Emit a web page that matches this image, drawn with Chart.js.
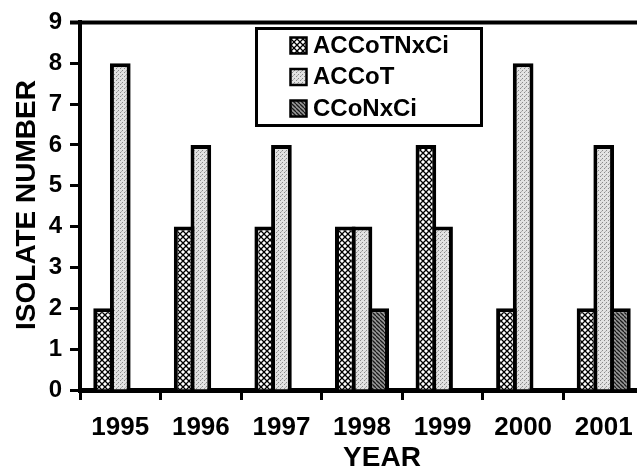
<!DOCTYPE html>
<html>
<head>
<meta charset="utf-8">
<script src="https://cdn.jsdelivr.net/npm/chart.js@4.4.1/dist/chart.umd.min.js"></script>
<style>
  html, body { margin: 0; padding: 0; background: #fff; overflow: hidden; }
  #wrap { width: 648px; height: 468px; }
</style>
</head>
<body>
<div id="wrap"><canvas id="chart" width="648" height="468"></canvas></div>
<script>
const years = ['1995', '1996', '1997', '1998', '1999', '2000', '2001'];
const accotnxci = [2, 4, 4, 4, 6, 2, 2];
const accot = [8, 6, 6, 4, 4, 8, 6];
const cconxci = [0, 0, 0, 2, 0, 0, 2];
const yTicks = [0, 1, 2, 3, 4, 5, 6, 7, 8, 9];

const FONT = "'Liberation Sans', Arial, sans-serif";

// small tiles used as bar fills
function makePattern(size, paint) {
    const c = document.createElement('canvas');
    c.width = size;
    c.height = size;
    const g = c.getContext('2d');
    paint(g, size);
    return g.createPattern(c, 'repeat');
}

const crossHatch = makePattern(6, (g, s) => {
    g.fillStyle = '#fff';
    g.fillRect(0, 0, s, s);
    g.strokeStyle = '#000';
    g.lineWidth = 1.3;
    for (let k = -s; k <= s; k += s) {
        g.beginPath();
        g.moveTo(k, 0); g.lineTo(k + s, s);
        g.moveTo(k + s, 0); g.lineTo(k, s);
        g.stroke();
    }
});

const stipple = makePattern(4, (g, s) => {
    g.fillStyle = '#e2e2e2';
    g.fillRect(0, 0, s, s);
    g.fillStyle = '#8a8a8a';
    g.fillRect(0, 0, 1, 1);
    g.fillRect(2, 2, 1, 1);
    g.fillStyle = '#b0b0b0';
    g.fillRect(1, 3, 1, 1);
});

const darkHatch = makePattern(4, (g, s) => {
    g.fillStyle = '#9a9a9a';
    g.fillRect(0, 0, s, s);
    g.strokeStyle = '#1a1a1a';
    g.lineWidth = 1.3;
    for (let k = -s; k <= s; k += s) {
        g.beginPath();
        g.moveTo(k, 0); g.lineTo(k + s, s);
        g.stroke();
    }
});

const series = [
    { label: 'ACCoTNxCi', data: accotnxci, fill: crossHatch },
    { label: 'ACCoT', data: accot, fill: stipple },
    { label: 'CCoNxCi', data: cconxci, fill: darkHatch }
];

// frame line on top, boxed legend and axis titles
const decorations = {
    id: 'decorations',
    afterDraw(chart) {
        const ctx = chart.ctx;
        const area = chart.chartArea;
        ctx.save();

        ctx.strokeStyle = '#000';
        ctx.lineWidth = 4;
        ctx.beginPath();
        ctx.moveTo(area.left - 10, area.top);
        ctx.lineTo(chart.width, area.top);
        ctx.stroke();

        // legend box
        ctx.lineWidth = 3;
        ctx.strokeRect(256.5, 28.5, 225, 97);
        chart.data.datasets.forEach((ds, i) => {
            const cy = 45 + i * 31.5;
            ctx.fillStyle = ds.backgroundColor;
            ctx.fillRect(290, cy - 8, 17, 17);
            ctx.lineWidth = 2.5;
            ctx.strokeRect(290.5, cy - 7.5, 16, 16);
            ctx.fillStyle = '#000';
            ctx.font = 'bold 24px ' + FONT;
            ctx.textAlign = 'left';
            ctx.textBaseline = 'middle';
            ctx.fillText(ds.label, 313, cy + 1);
        });

        ctx.fillStyle = '#000';
        ctx.textAlign = 'center';
        ctx.textBaseline = 'middle';
        ctx.font = 'bold 28px ' + FONT;
        ctx.fillText('YEAR', 382, 458);

        ctx.translate(27, 205);
        ctx.rotate(-Math.PI / 2);
        ctx.font = 'bold 28px ' + FONT;
        ctx.fillText('ISOLATE NUMBER', 0, 0);
        ctx.restore();
    }
};

new Chart(document.getElementById('chart'), {
    type: 'bar',
    data: {
        labels: years,
        datasets: series.map(s => ({
            label: s.label,
            data: s.data,
            backgroundColor: s.fill,
            borderColor: '#000',
            borderWidth: 4,
            // bars overlap by one border so neighbours share an outline
            categoryPercentage: 0.621,
            barPercentage: 1.24
        }))
    },
    options: {
        responsive: false,
        animation: false,
        layout: { padding: { top: 20, right: 4, left: 0, bottom: 0 } },
        plugins: {
            legend: { display: false },
            tooltip: { enabled: false }
        },
        scales: {
            x: {
                z: 1,
                offset: true,
                afterFit: scale => { scale.height = 78; },
                border: { display: true, color: '#000', width: 5 },
                grid: {
                    offset: true,
                    drawOnChartArea: false,
                    drawTicks: true,
                    tickLength: 10,
                    tickWidth: 3,
                    color: '#000'
                },
                ticks: {
                    color: '#000',
                    padding: 12,
                    font: { family: FONT, size: 26, weight: 'bold' }
                }
            },
            y: {
                min: 0,
                max: 9,
                afterFit: scale => { scale.width = 80; },
                afterBuildTicks: scale => { scale.ticks = yTicks.map(v => ({ value: v })); },
                border: { display: true, color: '#000', width: 4 },
                grid: {
                    drawOnChartArea: false,
                    drawTicks: true,
                    tickLength: 10,
                    tickWidth: 3,
                    color: '#000'
                },
                ticks: {
                    color: '#000',
                    padding: 8,
                    font: { family: FONT, size: 24, weight: 'bold' }
                }
            }
        }
    },
    plugins: [decorations]
});
</script>
</body>
</html>
